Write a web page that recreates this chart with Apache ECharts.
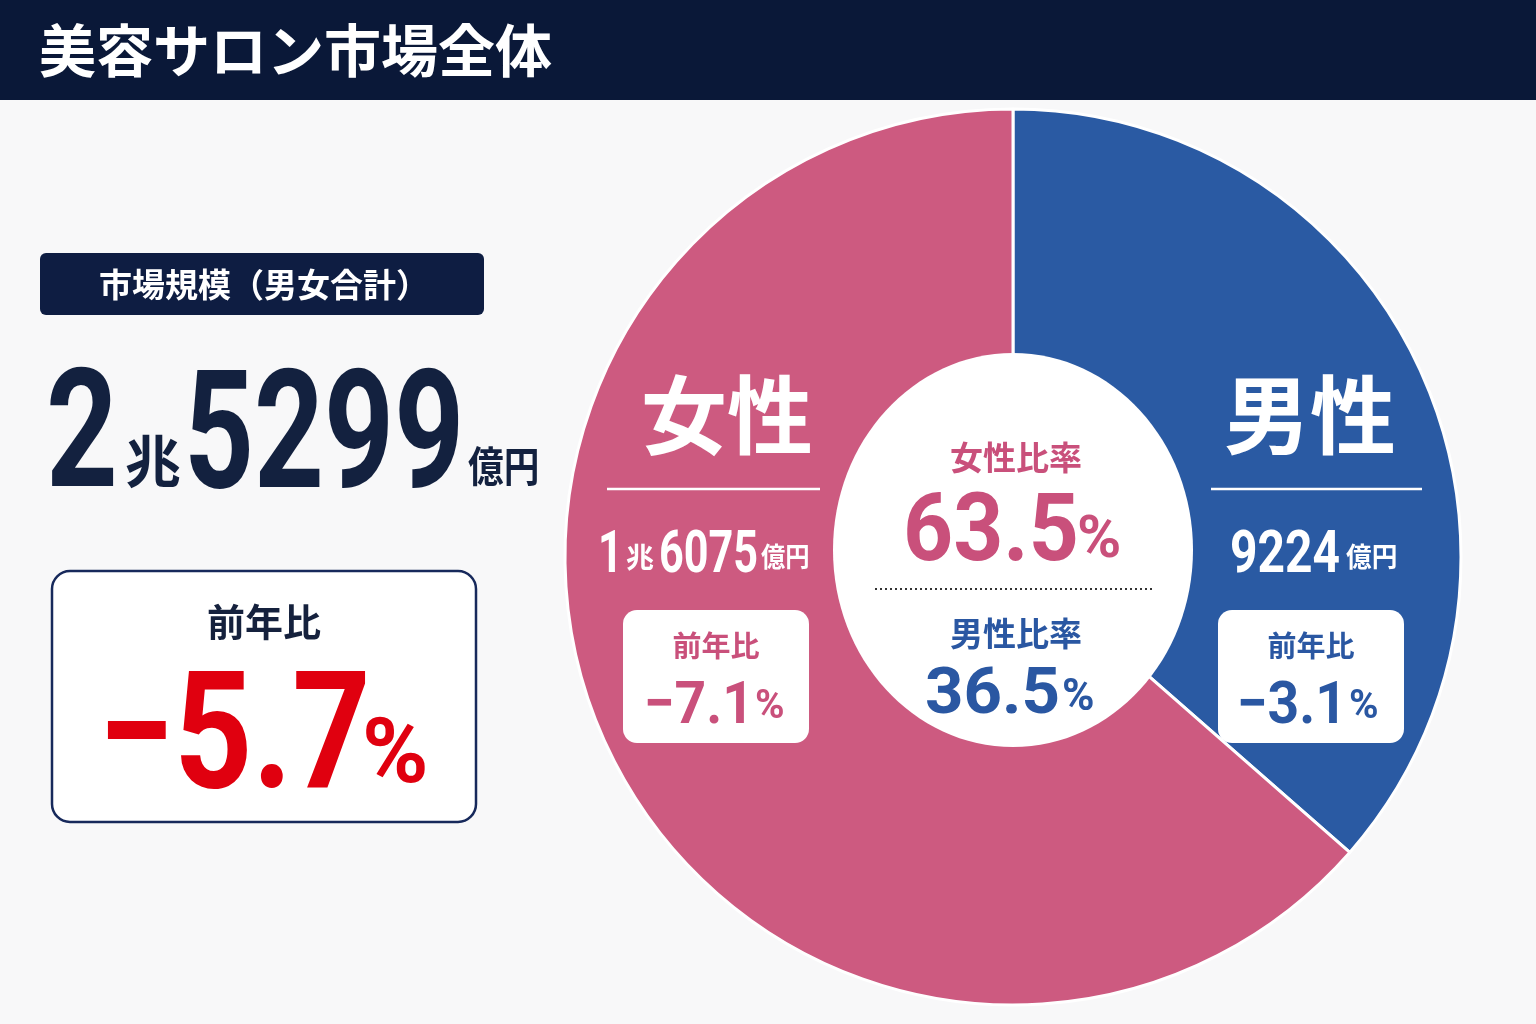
<!DOCTYPE html>
<html lang="ja">
<head>
<meta charset="utf-8">
<title>美容サロン市場全体</title>
<script src="https://cdn.jsdelivr.net/npm/echarts@6/dist/echarts.min.js"></script>
<style>
  html, body { margin: 0; padding: 0; background: #f8f8f9; }
  #chart { width: 1536px; height: 1024px; }
</style>
</head>
<body>
<div id="chart"></div>
<script>
// 市場データ（億円）
const categories = ['男性', '女性'];
const marketValues = [9224, 16075];
const yoyValues = [-3.1, -7.1];
const totalYoy = -5.7;
const sliceColors = ['#2a5aa3', '#cd5a80'];
const textColors = ['#2a57a2', '#c9507b'];

const JP = "'Noto Sans CJK JP', sans-serif";
const NUM = "Roboto, 'Noto Sans CJK JP', sans-serif";

const total = marketValues.reduce((a, b) => a + b, 0);
const shares = marketValues.map(v => (v / total * 100).toFixed(1));

// 億円の数値を「兆」と「億」に分ける
function splitOku(v) {
    return { cho: Math.floor(v / 10000), oku: String(v % 10000) };
}
function signed(v) {
    return (v < 0 ? '−' : '+') + Math.abs(v).toFixed(1);
}

function txt(text, x, y, size, color, opt) {
    opt = opt || {};
    const font = opt.font || JP;
    // Roboto の数字は middle だと少し上に寄るので補正
    const dy = font === NUM ? size * 0.1 : 0;
    return {
        type: 'text',
        x: x, y: y + dy, z: 100,
        scaleX: opt.sx || 1,
        style: {
            text: text,
            fill: color,
            fontSize: size,
            fontWeight: opt.weight || 'bold',
            fontFamily: font,
            textAlign: opt.align || 'left',
            align: opt.align || 'left',
            textVerticalAlign: 'middle',
            verticalAlign: 'middle'
        }
    };
}
function box(x, y, w, h, r, fill, stroke) {
    return {
        type: 'rect', z: 90,
        shape: { x: x, y: y, width: w, height: h, r: r },
        style: { fill: fill, stroke: stroke || null, lineWidth: stroke ? 2.5 : 0 }
    };
}
function hline(x1, x2, y, color, dash) {
    return {
        type: 'line', z: 100,
        shape: { x1: x1, y1: y, x2: x2, y2: y },
        style: { stroke: color, lineWidth: dash ? 2 : 2.5, lineDash: dash || null }
    };
}

const tot = splitOku(total);
const fem = splitOku(marketValues[1]);
const male = splitOku(marketValues[0]);

const elements = [
    // ヘッダー
    { type: 'rect', z: 90, shape: { x: 0, y: 0, width: 1536, height: 100 }, style: { fill: '#0a1838' } },
    txt('美容サロン市場全体', 39, 50, 57, '#ffffff'),

    // 市場規模
    box(40, 253, 444, 62, 6, '#0e1d42'),
    txt('市場規模（男女合計）', 264, 284, 33, '#ffffff', { align: 'center' }),
    txt(String(tot.cho), 46, 428, 165, '#13213f', { font: NUM, sx: 0.76 }),
    txt('兆', 125, 461, 56, '#13213f'),
    txt(tot.oku, 184, 429, 165, '#13213f', { font: NUM, sx: 0.74 }),
    txt('億円', 468, 466, 42, '#13213f', { sx: 0.85 }),

    // 前年比（全体）
    box(52, 571, 424, 251, 18, '#ffffff', '#17295b'),
    txt('前年比', 264, 622, 38, '#15213d', { align: 'center' }),
    txt(signed(totalYoy), 98, 730, 163, '#e0000f', { font: NUM, sx: 0.84 }),
    txt('%', 362, 750, 90, '#e0000f', { font: NUM }),

    // 中央の円
    { type: 'ellipse', z: 95, shape: { cx: 1013, cy: 550, rx: 180, ry: 197 }, style: { fill: '#ffffff' } },
    txt('女性比率', 1016, 457, 33, textColors[1], { align: 'center' }),
    txt(shares[1], 903, 527, 94, textColors[1], { font: NUM, sx: 0.93 }),
    txt('%', 1077, 536, 60, textColors[1], { font: NUM }),
    hline(875, 1152, 589, '#333333', [2, 3]),
    txt('男性比率', 1016, 633, 33, textColors[0], { align: 'center' }),
    txt(shares[0], 925, 691, 64, textColors[0], { font: NUM, sx: 1.05 }),
    txt('%', 1062, 695, 44, textColors[0], { font: NUM }),

    // 女性
    txt(categories[1], 727, 415, 86, '#ffffff', { align: 'center' }),
    hline(607, 820, 489, '#ffffff'),
    txt(String(fem.cho), 598, 551, 60, '#ffffff', { font: NUM, sx: 0.72 }),
    txt('兆', 626, 557, 28, '#ffffff'),
    txt(fem.oku, 659, 551, 60, '#ffffff', { font: NUM, sx: 0.72 }),
    txt('億円', 761, 557, 27, '#ffffff', { sx: 0.9 }),
    box(623, 610, 186, 133, 14, '#ffffff'),
    txt('前年比', 716, 646, 29, textColors[1], { align: 'center' }),
    txt(signed(yoyValues[1]), 644, 702, 60, textColors[1], { font: NUM, sx: 0.92 }),
    txt('%', 755, 704, 40, textColors[1], { font: NUM }),

    // 男性
    txt(categories[0], 1310, 415, 86, '#ffffff', { align: 'center' }),
    hline(1211, 1422, 489, '#ffffff'),
    txt(male.oku, 1230, 551, 60, '#ffffff', { font: NUM, sx: 0.8 }),
    txt('億円', 1346, 557, 27, '#ffffff', { sx: 0.95 }),
    box(1218, 610, 186, 133, 14, '#ffffff'),
    txt('前年比', 1311, 646, 29, textColors[0], { align: 'center' }),
    txt(signed(yoyValues[0]), 1237, 702, 60, textColors[0], { font: NUM, sx: 0.92 }),
    txt('%', 1349, 704, 40, textColors[0], { font: NUM })
];

const chart = echarts.init(document.getElementById('chart'));
chart.setOption({
    backgroundColor: '#f8f8f9',
    animation: false,
    graphic: { elements: elements },
    series: [
        {
            type: 'pie',
            center: [1013, 557],
            radius: [160, 448],
            startAngle: 90,
            clockwise: true,
            silent: true,
            label: { show: false },
            labelLine: { show: false },
            emphasis: { disabled: true },
            itemStyle: { borderColor: '#ffffff', borderWidth: 3 },
            data: categories.map((name, i) => ({
                name: name,
                value: marketValues[i],
                itemStyle: { color: sliceColors[i] }
            }))
        }
    ]
});
</script>
</body>
</html>
